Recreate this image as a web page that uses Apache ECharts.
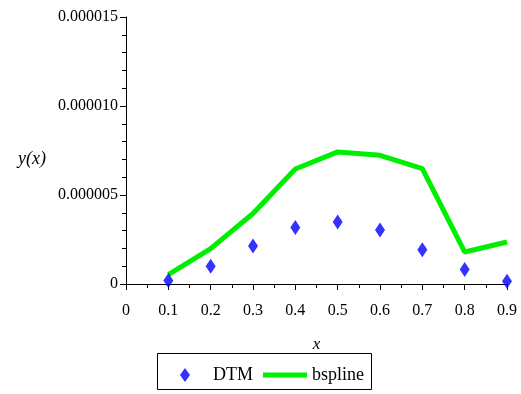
<!DOCTYPE html>
<html><head><meta charset="utf-8">
<script src="https://cdn.jsdelivr.net/npm/echarts@6/dist/echarts.min.js"></script>
<style>html,body{margin:0;padding:0;background:#fff}#c{width:521px;height:394px}</style>
</head><body><div id="c"></div>
<script>
const xValues = [0.1, 0.2, 0.3, 0.4, 0.5, 0.6, 0.7, 0.8, 0.9];
const dtmValues = [0.20e-6, 1.00e-6, 2.13e-6, 3.17e-6, 3.48e-6, 3.03e-6, 1.93e-6, 0.81e-6, 0.15e-6];
const bsplineValues = [0.53e-6, 1.99e-6, 3.96e-6, 6.46e-6, 7.42e-6, 7.23e-6, 6.48e-6, 1.80e-6, 2.36e-6];
const font = 'Liberation Serif';
const chart = echarts.init(document.getElementById('c'));
chart.setOption({
  animation: false,
  grid: {left: 126, right: 14, top: 17, bottom: 110},
  xAxis: {
    type: 'value', min: 0, max: 0.9, interval: 0.1,
    name: 'x', nameLocation: 'middle', nameGap: 52,
    nameTextStyle: {fontFamily: font, fontStyle: 'italic', fontSize: 17, color: '#000'},
    axisLine: {onZero: false, lineStyle: {color: '#000', width: 1}},
    axisTick: {length: 6, lineStyle: {color: '#000'}},
    minorTick: {show: true, splitNumber: 2, length: 4, lineStyle: {color: '#000'}},
    splitLine: {show: false},
    axisLabel: {fontFamily: font, fontSize: 16, color: '#000', margin: 19,
      formatter: v => v === 0 ? '0' : (+v.toFixed(1)).toString()}
  },
  yAxis: {
    type: 'value', min: 0, max: 1.5e-5, interval: 5e-6,
    name: 'y(x)', nameLocation: 'middle', nameGap: 80, nameRotate: 0,
    nameTextStyle: {fontFamily: font, fontStyle: 'italic', fontSize: 18, color: '#000', verticalAlign: 'top'},
    axisLine: {show: true, lineStyle: {color: '#000', width: 1}},
    axisTick: {show: true, length: 6, lineStyle: {color: '#000'}},
    minorTick: {show: true, splitNumber: 5, length: 4, lineStyle: {color: '#000'}},
    splitLine: {show: false},
    axisLabel: {fontFamily: font, fontSize: 16, color: '#000', margin: 8,
      formatter: v => v === 0 ? '0' : v.toFixed(6)}
  },
  legend: [
    {left: 180, top: 366, padding: 0, itemWidth: 10, itemHeight: 14,
      textStyle: {fontFamily: font, fontSize: 18, color: '#000', padding: [0, 0, 0, 18]},
      data: [{name: 'DTM', icon: 'diamond'}]},
    {left: 263, top: 366, padding: 0, itemWidth: 44, itemHeight: 5,
      textStyle: {fontFamily: font, fontSize: 18, color: '#000'},
      data: [{name: 'bspline', icon: 'rect'}]}
  ],
  graphic: [{type: 'rect', shape: {x: 157.5, y: 353.5, width: 214, height: 36},
    style: {fill: 'none', stroke: '#000', lineWidth: 1}}],
  series: [
    {name: 'DTM', type: 'scatter', symbol: 'diamond', symbolSize: [10, 15], symbolKeepAspect: false,
      itemStyle: {color: '#0000ff'}, data: xValues.map((x, i) => [x, dtmValues[i]]), z: 3},
    {name: 'bspline', type: 'line', showSymbol: false, symbol: 'none',
      lineStyle: {color: '#00ee00', width: 5}, itemStyle: {color: '#00ee00'},
      data: xValues.map((x, i) => [x, bsplineValues[i]]), z: 2}
  ]
});
</script></body></html>
